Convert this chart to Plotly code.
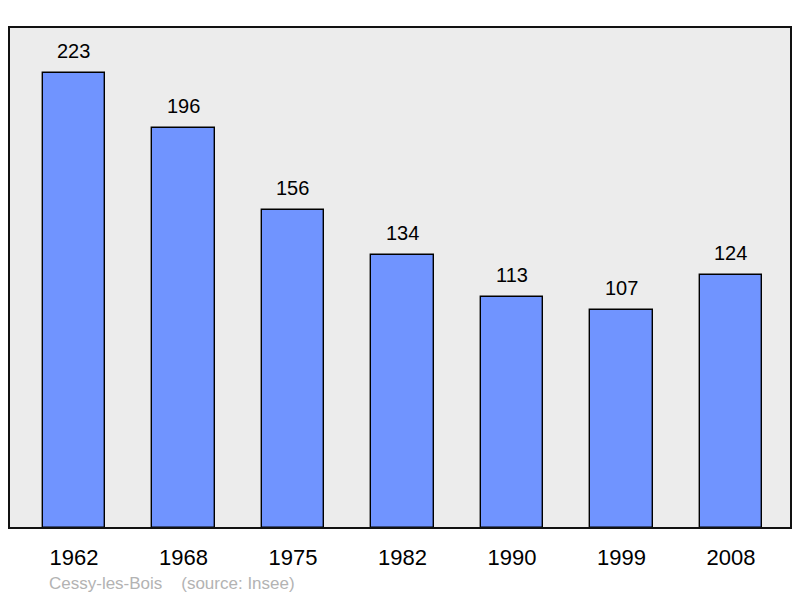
import plotly.graph_objects as go

years = ["1962", "1968", "1975", "1982", "1990", "1999", "2008"]
population = [223, 196, 156, 134, 113, 107, 124]
source_text = "Cessy-les-Bois\u00a0\u00a0\u00a0\u00a0(source: Insee)"

W, H = 800, 598
L, R, T, B = 9, 9, 27, 70

fig = go.Figure()
fig.add_trace(go.Bar(
    x=list(range(len(years))), y=population,
    width=0.57,
    marker=dict(color="#7094ff", line=dict(color="#000000", width=1.4)),
    hoverinfo="skip",
))

for i, v in enumerate(population):
    fig.add_annotation(x=i, y=v, text=str(v), showarrow=False,
                       yanchor="bottom", yshift=9,
                       font=dict(family="Liberation Sans, Arial", size=20, color="#000000"))

fig.add_annotation(xref="paper", yref="paper", x=(47 - L) / (W - L - R), y=-(583 - (H - B)) / (H - T - B),
                   xanchor="left", yanchor="middle", showarrow=False, text=source_text,
                   font=dict(family="Liberation Sans, Arial", size=17, color="#b3b3b3"))

fig.add_shape(type="rect", xref="paper", yref="paper", x0=0, y0=0, x1=1, y1=1,
              line=dict(color="#111111", width=2), layer="above")

fig.update_xaxes(range=[-0.593, 6.548], tickmode="array", tickvals=list(range(len(years))),
                 ticktext=years, showgrid=False, zeroline=False, showline=False,
                 ticks="outside", ticklen=10, tickcolor="rgba(0,0,0,0)",
                 tickfont=dict(family="Liberation Sans, Arial", size=22, color="#000000"))
fig.update_yaxes(range=[0, 245.5], visible=False, showgrid=False, zeroline=False)

fig.update_layout(width=W, height=H, margin=dict(l=L, r=R, t=T, b=B),
                  plot_bgcolor="#ececec", paper_bgcolor="#ffffff",
                  showlegend=False, bargap=0)

fig.write_html("out.html", config={"displayModeBar": False},
               post_script="document.body.style.margin='0';document.body.style.overflow='hidden';")
